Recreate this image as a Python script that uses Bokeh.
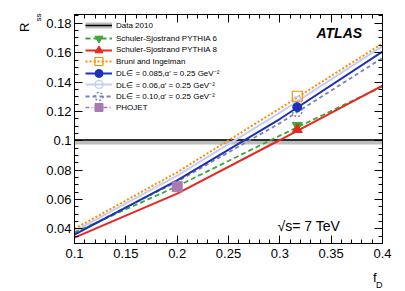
import numpy as np
from bokeh.plotting import figure
from bokeh.models import (Range1d, FixedTicker, LinearAxis, Legend, LegendItem, Label, Title)
from bokeh.embed import file_html
from bokeh.resources import INLINE

# ---------------- data ----------------
fD = [0.1, 0.2, 0.3, 0.4]
r_pythia6 = [0.0375, 0.0690, 0.1035, 0.1370]
r_pythia8 = [0.0340, 0.0640, 0.1005, 0.1376]
r_bruni = [0.0400, 0.0785, 0.1220, 0.1663]
r_dl085 = [0.0360, 0.0730, 0.1148, 0.1607]
r_dl060 = [0.0385, 0.0762, 0.1192, 0.1645]
r_dl100 = [0.0368, 0.0722, 0.1120, 0.1564]

fd_point = [0.317]
pt_pythia6 = [0.1105]
pt_pythia8 = [0.1076]
pt_bruni = [0.1303]
pt_dl085 = [0.1229]
pt_dl060 = [0.1270]
pt_dl100 = [0.1195]

phojet_fd = [0.2]
phojet_r = [0.0687]

data_value = 0.1005
data_lo = 0.0975
data_hi = 0.1012

x_ticks = [0.1, 0.15, 0.2, 0.25, 0.3, 0.35, 0.4]
x_labels = ["0.1", "0.15", "0.2", "0.25", "0.3", "0.35", "0.4"]
y_ticks = [0.04, 0.06, 0.08, 0.1, 0.12, 0.14, 0.16, 0.18]
y_labels = ["0.04", "0.06", "0.08", "0.1", "0.12", "0.14", "0.16", "0.18"]

legend_labels = [
    "Data 2010",
    "Schuler-Sjostrand PYTHIA 6",
    "Schuler-Sjostrand PYTHIA 8",
    "Bruni and Ingelman",
    "DL\u2208 = 0.085,\u03b1' = 0.25 GeV\u207b\u00b2",
    "DL\u2208 = 0.06,\u03b1' = 0.25 GeV\u207b\u00b2",
    "DL\u2208 = 0.10,\u03b1' = 0.25 GeV\u207b\u00b2",
    "PHOJET",
]

x_min, x_max = 0.1, 0.4
y_min, y_max = 0.03, 0.186

FONT = "Liberation Sans"
FRAME_TOP = 14
FRAME_H = 229

p = figure(frame_width=308, frame_height=FRAME_H,
           x_range=Range1d(x_min, x_max), y_range=Range1d(y_min, y_max),
           output_backend="svg", toolbar_location=None,
           min_border_left=74, min_border_right=23, min_border_top=FRAME_TOP, min_border_bottom=47,
           x_axis_location=None, y_axis_location=None)
p.xgrid.visible = False
p.ygrid.visible = False
p.outline_line_color = "black"
p.outline_line_width = 1
p.background_fill_color = "white"
p.border_fill_color = "white"

x_minor = [round(v, 3) for v in np.arange(x_min, x_max + 1e-9, 0.01)]
y_minor = [round(v, 4) for v in np.arange(y_min, y_max, 0.005)]

def style_axis(ax, show_labels, standoff=4):
    ax.major_tick_in = 8
    ax.major_tick_out = 0
    ax.minor_tick_in = 4
    ax.minor_tick_out = 0
    ax.axis_line_color = "black"
    ax.major_tick_line_color = "black"
    ax.minor_tick_line_color = "black"
    ax.major_label_text_font = FONT
    ax.major_label_text_color = "black"
    ax.major_label_text_font_size = "13px"
    ax.major_label_standoff = standoff if show_labels else 0

xb = LinearAxis(ticker=FixedTicker(ticks=x_ticks, minor_ticks=x_minor),
                major_label_overrides=dict(zip(x_ticks, x_labels)))
style_axis(xb, True, 5)
p.add_layout(xb, "below")
xt = LinearAxis(ticker=FixedTicker(ticks=x_ticks, minor_ticks=x_minor),
                major_label_overrides={t: "" for t in x_ticks})
style_axis(xt, False)
p.add_layout(xt, "above")
yl = LinearAxis(ticker=FixedTicker(ticks=y_ticks, minor_ticks=y_minor),
                major_label_overrides=dict(zip(y_ticks, y_labels)))
style_axis(yl, True, 3)
p.add_layout(yl, "left")
yr = LinearAxis(ticker=FixedTicker(ticks=y_ticks, minor_ticks=y_minor),
                major_label_overrides={t: "" for t in y_ticks})
style_axis(yr, False)
p.add_layout(yr, "right")

# axis titles (side-panel titles, so they are not clipped by the frame)
p.add_layout(Title(text="ss", align="right", offset=-1, standoff=0, vertical_align="middle",
                   text_font=FONT, text_font_size="8px", text_font_style="normal",
                   text_color="black"), "left")
p.add_layout(Title(text="R", align="right", offset=8, standoff=0, vertical_align="middle",
                   text_font=FONT, text_font_size="13px", text_font_style="normal",
                   text_color="black"), "left")
p.add_layout(Title(text="f", align="right", offset=6, standoff=16, vertical_align="middle",
                   text_font=FONT, text_font_size="13px", text_font_style="normal",
                   text_color="black"), "below")
p.add_layout(Title(text="D", align="right", offset=0, standoff=-28, vertical_align="top",
                   text_font=FONT, text_font_size="9px", text_font_style="normal",
                   text_color="black"), "below")

# colours
GREY = "#bdbdbd"
GREEN = "#3aa83a"
RED = "#e8281e"
ORANGE = "#ff8c00"
BLUE = "#1c30b8"
LIGHT = "#c5cff5"
DASHB = "#7d80b2"
PURPLE = "#a87ab0"

x_span = [x_min, x_max]
no_data = [np.nan]

# data band
band = p.varea(x=x_span, y1=[data_lo] * 2, y2=[data_hi] * 2, fill_color=GREY)
band_leg = p.line(x=no_data, y=no_data, line_color=GREY, line_width=6)
data_line = p.line(x=x_span, y=[data_value] * 2, line_color="black", line_width=1.5)

# model curves
l_dl060 = p.line(fD, r_dl060, line_color=LIGHT, line_width=2)
l_bruni = p.line(fD, r_bruni, line_color=ORANGE, line_width=2, line_dash="2 2")
l_dl100 = p.line(fD, r_dl100, line_color=DASHB, line_width=1.8, line_dash="4 3")
l_py6 = p.line(fD, r_pythia6, line_color=GREEN, line_width=1.8, line_dash="5 3")
l_py8 = p.line(fD, r_pythia8, line_color=RED, line_width=2)
l_dl085 = p.line(fD, r_dl085, line_color=BLUE, line_width=2)
l_phojet = p.line(x=no_data, y=no_data, line_color=PURPLE, line_width=1.5, line_dash="4 2 1 2")

# markers
m_dl060 = p.scatter(fd_point, pt_dl060, marker="circle", size=9, fill_color="white", fill_alpha=0,
                    line_color=LIGHT, line_width=1.5)
m_py6 = p.scatter(fd_point, pt_pythia6, marker="inverted_triangle", size=10, fill_color=GREEN, line_color=GREEN)
m_py8 = p.scatter(fd_point, pt_pythia8, marker="triangle", size=10, fill_color=RED, line_color=RED)
m_dl100 = p.scatter(fd_point, pt_dl100, marker="circle", size=9, fill_color="white", fill_alpha=0,
                    line_color=DASHB, line_width=1.5, line_dash="2 2")
m_dl085 = p.scatter(fd_point, pt_dl085, marker="circle", size=9, fill_color=BLUE, line_color=BLUE)
m_bruni = p.scatter(fd_point, pt_bruni, marker="square", size=10, fill_color="white", fill_alpha=0,
                    line_color=ORANGE, line_width=1.2)
m_phojet = p.scatter(phojet_fd, phojet_r, marker="square", size=10, fill_color=PURPLE, line_color=PURPLE)

legend_renderers = [
    [band_leg, data_line],
    [l_py6, m_py6],
    [l_py8, m_py8],
    [l_bruni, m_bruni],
    [l_dl085, m_dl085],
    [l_dl060, m_dl060],
    [l_dl100, m_dl100],
    [l_phojet, m_phojet],
]
# row centres (page pixels from top) of the legend entries
row_centres = [25, 38, 49.5, 61, 72.5, 84, 95.5, 107]
GLYPH_H = 20
for label, rends, c in zip(legend_labels, legend_renderers, row_centres):
    lg = Legend(items=[LegendItem(label=label, renderers=rends)],
                location=(11, FRAME_TOP + FRAME_H - (c + GLYPH_H / 2)), margin=0, padding=0,
                glyph_width=27, glyph_height=GLYPH_H, label_height=GLYPH_H, spacing=0,
                label_standoff=4, label_text_font=FONT, label_text_font_size="8px",
                label_text_color="black",
                border_line_alpha=0, background_fill_alpha=0)
    p.add_layout(lg, "center")

# texts
p.add_layout(Label(x=242, y=211, x_units="screen", y_units="screen", text="ATLAS",
                   text_font=FONT, text_font_size="14px", text_font_style="bold italic",
                   text_baseline="middle", text_color="black"))
p.add_layout(Label(x=203, y=18, x_units="screen", y_units="screen", text="\u221as= 7 TeV",
                   text_font=FONT, text_font_size="14px",
                   text_baseline="middle", text_color="black"))

open("out.html", "w").write(file_html(p, INLINE))
